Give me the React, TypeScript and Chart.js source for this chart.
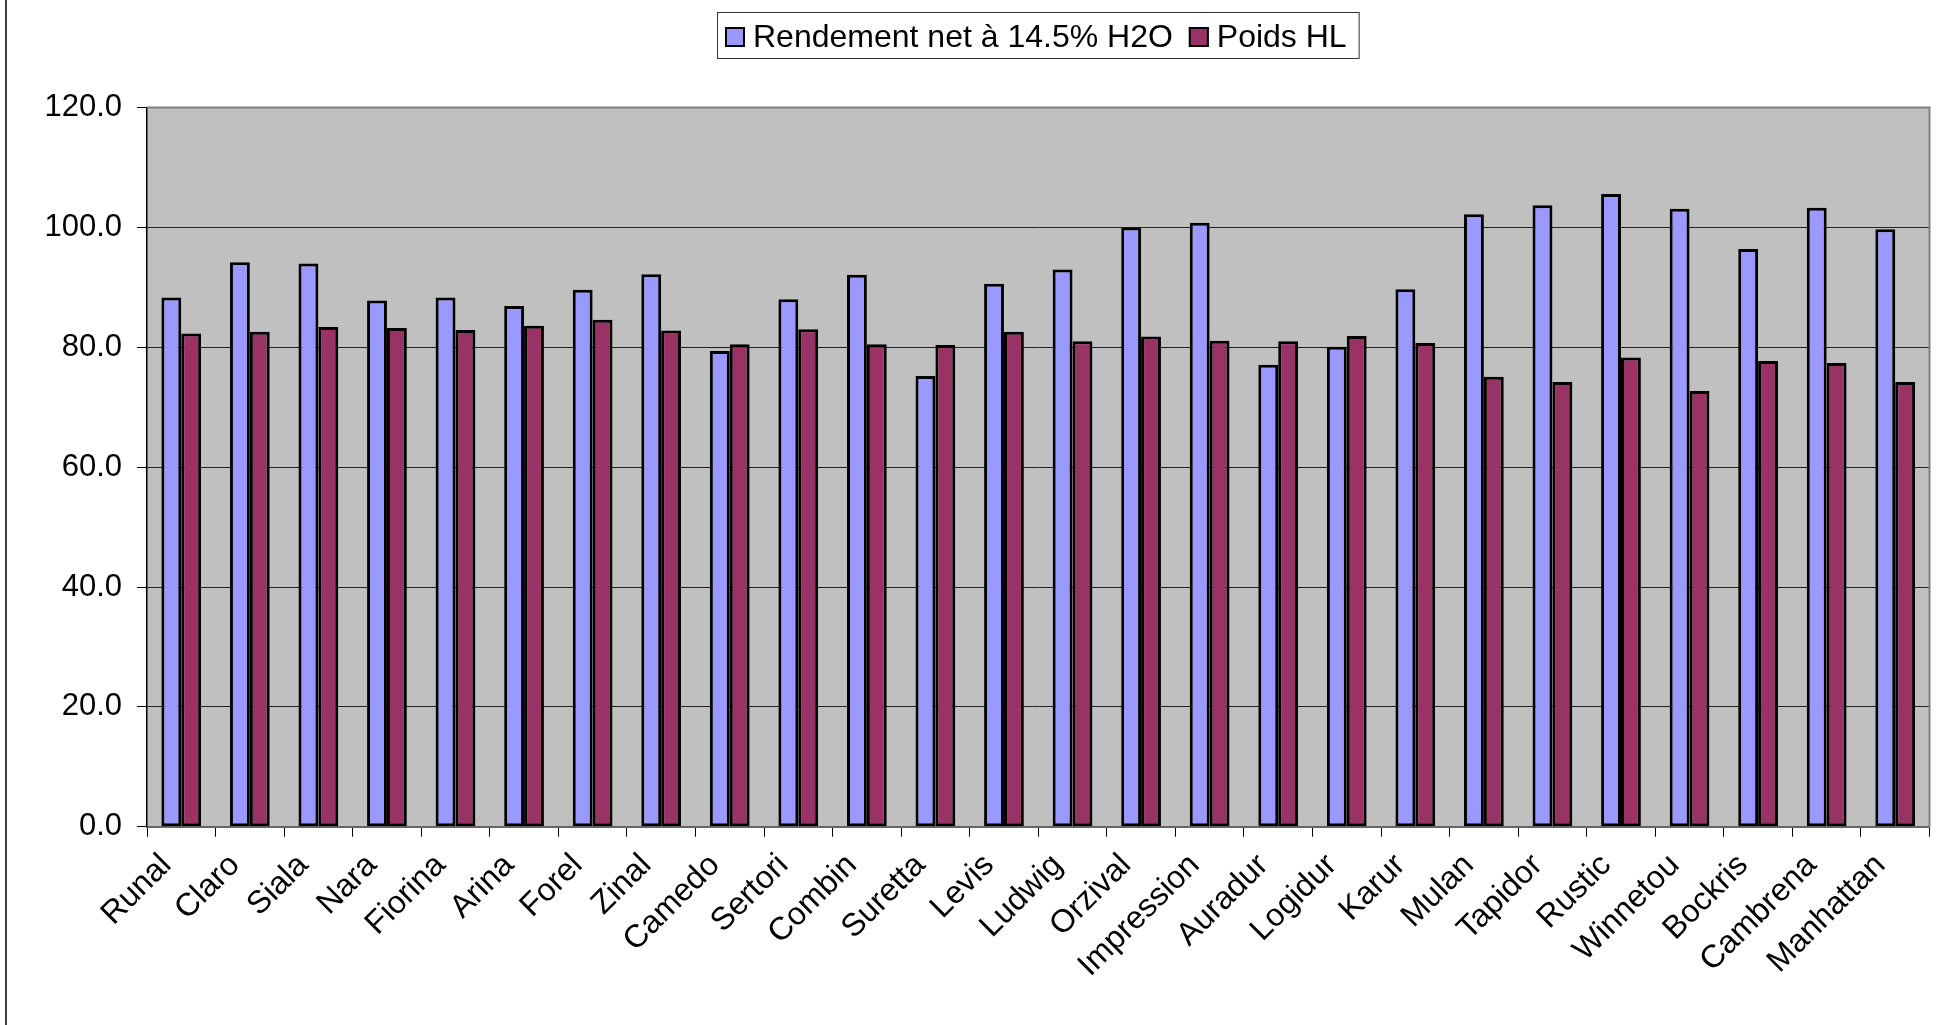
import React, { useEffect, useRef } from "react";
import { Chart, registerables } from "chart.js";

Chart.register(...registerables);

const categories = [
  "Runal", "Claro", "Siala", "Nara", "Fiorina", "Arina", "Forel", "Zinal", "Camedo",
  "Sertori", "Combin", "Suretta", "Levis", "Ludwig", "Orzival", "Impression", "Auradur",
  "Logidur", "Karur", "Mulan", "Tapidor", "Rustic", "Winnetou", "Bockris", "Cambrena", "Manhattan",
];

const rendementLabel = "Rendement net à 14.5% H2O";
const rendement = [
  88.3, 94.2, 94.0, 87.8, 88.3, 86.9, 89.6, 92.2, 79.4,
  88.0, 92.1, 75.2, 90.6, 93.0, 100.0, 100.8, 77.1,
  80.1, 89.7, 102.2, 103.7, 105.6, 103.1, 96.4, 103.3, 99.7,
];

const poidsLabel = "Poids HL";
const poids = [
  82.3, 82.6, 83.4, 83.2, 82.9, 83.6, 84.6, 82.8, 80.5,
  83.0, 80.5, 80.4, 82.6, 81.0, 81.8, 81.1, 81.0,
  81.9, 80.7, 75.1, 74.2, 78.3, 72.7, 77.7, 77.4, 74.2,
];

const yMin = 0;
const yMax = 120;
const yStep = 20;

const FONT_FAMILY = '"Liberation Sans", Arial, Helvetica, sans-serif';
const BLUE = "#9999FF";
const PLUM = "#993366";

const framePlugin = {
  id: "frame",
  beforeDraw(chart: any) {
    const { ctx, chartArea: ca, width, height } = chart;
    ctx.save();
    ctx.fillStyle = "#FFFFFF";
    ctx.fillRect(0, 0, width, height);
    ctx.fillStyle = "#C0C0C0";
    ctx.fillRect(ca.left, ca.top, ca.right - ca.left, ca.bottom - ca.top);
    ctx.strokeStyle = "#000";
    ctx.lineWidth = 1.5;
    ctx.beginPath();
    ctx.moveTo(6, 0);
    ctx.lineTo(6, height);
    ctx.stroke();
    ctx.restore();
  },
  afterDraw(chart: any) {
    const { ctx, chartArea: ca } = chart;
    ctx.save();
    ctx.strokeStyle = "#808080";
    ctx.lineWidth = 2;
    ctx.beginPath();
    ctx.moveTo(ca.left, ca.top);
    ctx.lineTo(ca.right, ca.top);
    ctx.lineTo(ca.right, ca.bottom);
    ctx.stroke();

    const items = chart.data.datasets.map((d: any) => ({ label: d.label, color: d.backgroundColor }));
    ctx.font = `32px ${FONT_FAMILY}`;
    const sq = 20, gapText = 8, gapItem = 16, padL = 8, padR = 12;
    const widths = items.map((it: any) => ctx.measureText(it.label).width);
    let total = padL + padR + gapItem * (items.length - 1);
    widths.forEach((w: number) => (total += sq + gapText + w));
    const cx = (ca.left + ca.right) / 2;
    let x = Math.round(cx - total / 2);
    const top = 12, bottom = 58;
    ctx.strokeStyle = "#333";
    ctx.lineWidth = 1;
    ctx.strokeRect(x + 0.5, top + 0.5, total, bottom - top);
    x += padL;
    items.forEach((it: any, i: number) => {
      ctx.fillStyle = it.color;
      ctx.fillRect(x, 27, sq, sq);
      ctx.strokeStyle = "#000";
      ctx.lineWidth = 2;
      ctx.strokeRect(x + 1, 28, sq - 2, sq - 2);
      ctx.fillStyle = "#000";
      ctx.textBaseline = "alphabetic";
      ctx.textAlign = "left";
      ctx.fillText(it.label, x + sq + gapText, 47);
      x += sq + gapText + widths[i] + gapItem;
    });
    ctx.restore();
  },
};

export default function App() {
  const canvasRef = useRef<HTMLCanvasElement | null>(null);

  useEffect(() => {
    const canvas = canvasRef.current;
    if (!canvas) return;
    const chart = new Chart(canvas, {
      type: "bar",
      data: {
        labels: categories,
        datasets: [
          {
            label: rendementLabel,
            data: rendement,
            backgroundColor: BLUE,
            borderColor: "#000",
            borderWidth: 3,
            borderSkipped: false,
            barPercentage: 1,
            categoryPercentage: 0.58,
          },
          {
            label: poidsLabel,
            data: poids,
            backgroundColor: PLUM,
            borderColor: "#000",
            borderWidth: 3,
            borderSkipped: false,
            barPercentage: 1,
            categoryPercentage: 0.58,
          },
        ],
      },
      options: {
        responsive: false,
        animation: false,
        devicePixelRatio: 1,
        layout: { padding: { top: 107.6, right: 9.5, left: 0, bottom: 0 } },
        plugins: {
          legend: { display: false },
          tooltip: { enabled: false },
          title: { display: false },
        },
        scales: {
          x: {
            offset: true,
            grid: {
              display: true,
              offset: true,
              drawOnChartArea: false,
              drawTicks: true,
              tickLength: 10,
              tickColor: "#000",
            },
            border: { display: true, color: "#666", width: 2 },
            ticks: {
              autoSkip: false,
              maxRotation: 45,
              minRotation: 45,
              padding: 10,
              labelOffset: -15,
              color: "#000",
              font: { family: FONT_FAMILY, size: 32 },
            },
            afterFit: (s: any) => {
              s.height = 1025 - 826.7;
            },
          },
          y: {
            min: yMin,
            max: yMax,
            ticks: {
              stepSize: yStep,
              padding: 15,
              color: "#000",
              font: { family: FONT_FAMILY, size: 31 },
              callback: (v: any) => Number(v).toFixed(1),
            },
            grid: {
              color: "#222",
              lineWidth: 1,
              drawTicks: true,
              tickLength: 10,
              tickColor: "#000",
            },
            border: { display: true, color: "#000", width: 1.5 },
            afterFit: (s: any) => {
              s.width = 147;
            },
          },
        },
      },
      plugins: [framePlugin],
    });
    return () => chart.destroy();
  }, []);

  return (
    <canvas
      ref={canvasRef}
      width={1939}
      height={1025}
      style={{ position: "absolute", left: 0, top: 0, width: 1939, height: 1025 }}
    />
  );
}
